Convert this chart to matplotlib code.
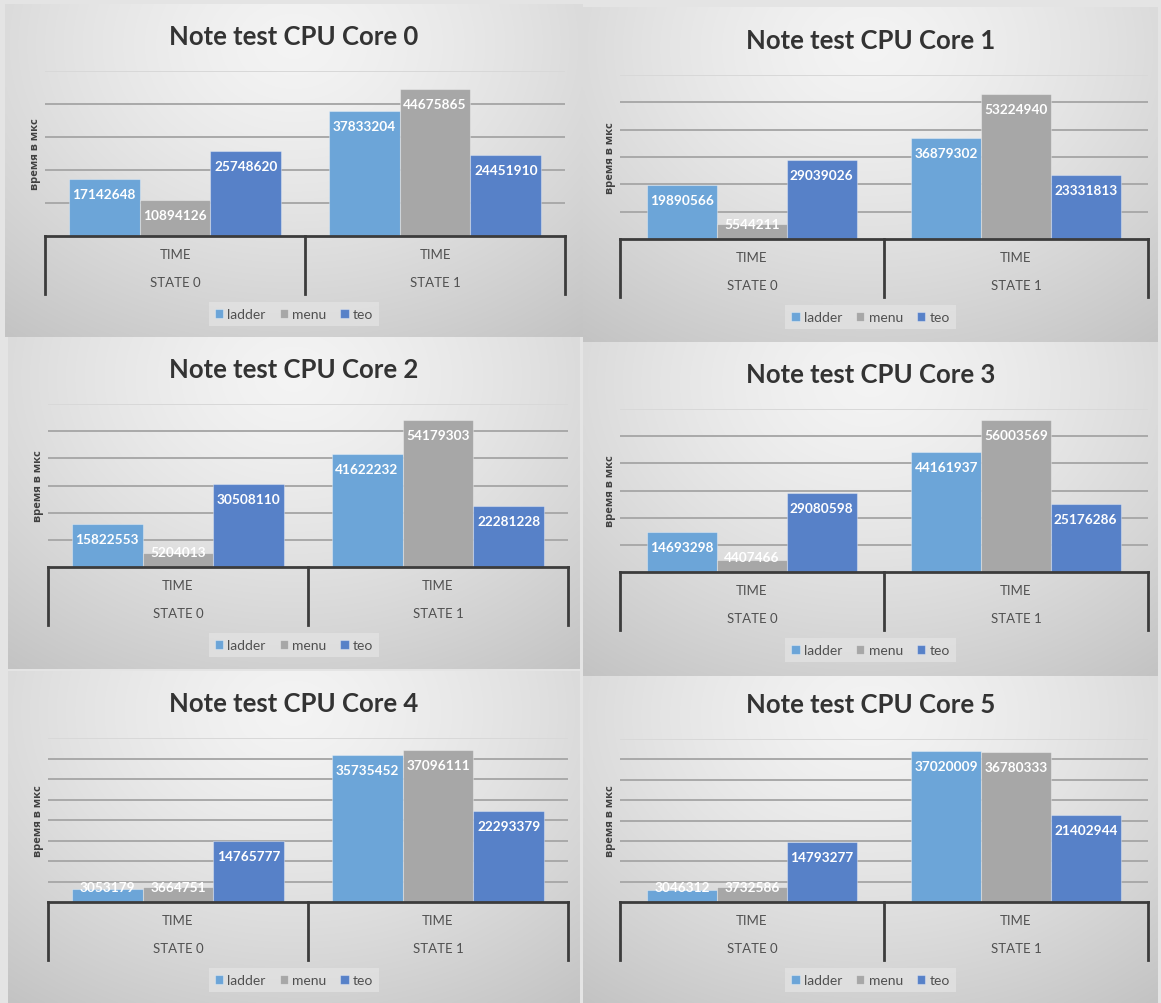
import numpy as np
import matplotlib.pyplot as plt
import matplotlib.transforms as mtransforms

plt.rcParams['font.family'] = ['Lato', 'Open Sans', 'DejaVu Sans']

W, H = 1161, 1004

core_titles = ['Note test CPU Core 0', 'Note test CPU Core 1', 'Note test CPU Core 2',
               'Note test CPU Core 3', 'Note test CPU Core 4', 'Note test CPU Core 5']
state_labels = ['STATE 0', 'STATE 1']
metric_label = 'TIME'
series_names = ['ladder', 'menu', 'teo']
y_label = 'время в мкс'

# time per core, [state 0, state 1]
ladder = [[17142648, 37833204], [19890566, 36879302], [15822553, 41622232],
          [14693298, 44161937], [3053179, 35735452], [3046312, 37020009]]
menu = [[10894126, 44675865], [5544211, 53224940], [5204013, 54179303],
        [4407466, 56003569], [3664751, 37096111], [3732586, 36780333]]
teo = [[25748620, 24451910], [29039026, 23331813], [30508110, 22281228],
       [29080598, 25176286], [14765777, 22293379], [14793277, 21402944]]

y_max = [50e6, 60e6, 60e6, 60e6, 40e6, 40e6]
y_step = [10e6, 10e6, 10e6, 10e6, 5e6, 5e6]

# panel rectangles in pixels: left, top, width, height
panels = [(5, 5, 578, 333), (583, 8, 575, 335), (8, 338, 572, 332),
          (583, 343, 575, 334), (8, 672, 572, 332), (583, 677, 575, 327)]
# plot areas in pixels: left, right, top gridline, baseline
plot_areas = [(45, 565, 72, 237), (620, 1148, 76, 240), (48, 568, 405, 568),
              (620, 1148, 410, 573), (48, 568, 739, 903), (620, 1148, 740, 903)]
bar_widths = [0.273, 0.264, 0.273, 0.264, 0.273, 0.264]

colors = ['#6ca5d8', '#a7a7a7', '#5781c8']
text_gray = '#505050'
PT = 0.72  # points per pixel at dpi 100


def gradient(n=200):
    yy, xx = np.mgrid[0:n, 0:n] / (n - 1)
    d = np.sqrt(((xx - 0.5) / 0.75) ** 2 + ((yy - 0.12) / 1.0) ** 2)
    d = np.clip(d / d.max(), 0, 1)
    v = 0.955 - 0.19 * d ** 1.4
    return np.dstack([v, v, v])


def add_panel(fig, i):
    l, t, w, h = panels[i]
    bg = fig.add_axes([l / W, 1 - (t + h) / H, w / W, h / H])
    bg.imshow(gradient(), aspect='auto', extent=[0, 1, 0, 1], interpolation='bilinear')
    bg.set_axis_off()

    x0, x1, ytop, ybase = plot_areas[i]
    ph = ybase - ytop
    ax = fig.add_axes([x0 / W, 1 - ybase / H, (x1 - x0) / W, ph / H])
    ax.set_facecolor('none')

    x = np.arange(2)
    bw = bar_widths[i]
    series = [ladder[i], menu[i], teo[i]]
    for k, vals in enumerate(series):
        ax.bar(x + (k - 1) * bw, vals, bw, color=colors[k],
               edgecolor=(1, 1, 1, 0.35), linewidth=0.8, zorder=3, label=series_names[k])
        for xi, v in zip(x + (k - 1) * bw, vals):
            hpx = v / y_max[i] * ph
            if hpx >= 30:
                ax.annotate(f'{v}', xy=(xi, v), xytext=(0, -15 * PT), textcoords='offset points',
                            ha='center', va='center', color='white', fontsize=9.8,
                            fontweight='bold', zorder=5)
            else:
                ax.annotate(f'{v}', xy=(xi, 0), xytext=(0, 15 * PT), textcoords='offset points',
                            ha='center', va='center', color='white', fontsize=9.8,
                            fontweight='bold', zorder=5)

    ax.set_xlim(-0.5, 1.5)
    ax.set_ylim(0, y_max[i])
    ticks = np.arange(y_step[i], y_max[i] + 1, y_step[i])
    for tv in ticks:
        c = '#d8d8d8' if tv == ticks[-1] else '#a9a9a9'
        ax.axhline(tv, color=c, lw=1.4, zorder=1)
    ax.set_xticks([])
    ax.set_yticks([])
    for s in ['top', 'right', 'left']:
        ax.spines[s].set_visible(False)
    ax.spines['bottom'].set_color('#3c3c3c')
    ax.spines['bottom'].set_linewidth(2)
    ax.spines['bottom'].set_zorder(6)

    trans = mtransforms.blended_transform_factory(ax.transData, ax.transAxes)
    for xv in [-0.5, 0.5, 1.5]:
        ax.plot([xv, xv], [0, -58 / ph], color='#3c3c3c', lw=2,
                transform=trans, clip_on=False, zorder=6)
    for xi, st in zip(x, state_labels):
        ax.annotate(metric_label, xy=(xi, 0), xycoords=trans, xytext=(0, -18 * PT),
                    textcoords='offset points', ha='center', va='center',
                    fontsize=9.5, color=text_gray)
        ax.annotate(st, xy=(xi, 0), xycoords=trans, xytext=(0, -46 * PT),
                    textcoords='offset points', ha='center', va='center',
                    fontsize=9.5, color=text_gray)

    ax.set_ylabel(y_label, fontsize=8, fontweight='bold', color='#404040',
                  labelpad=3, family=['Open Sans', 'DejaVu Sans'])

    # legend sits under the middle of the panel
    cx = ((l + w / 2) - x0) / (x1 - x0)
    leg = ax.legend(loc='center', bbox_to_anchor=(cx, -78 / ph), ncol=3, frameon=True,
                    fontsize=10, handlelength=0.6, handleheight=0.6, handletextpad=0.3,
                    columnspacing=1.0, borderpad=0.45, fancybox=False)
    leg.get_frame().set_facecolor('#e2e2e2')
    leg.get_frame().set_edgecolor('none')
    for txt in leg.get_texts():
        txt.set_color(text_gray)

    fig.text((l + w / 2) / W, 1 - (ytop - 35) / H, core_titles[i], ha='center', va='center',
             fontsize=18.5, fontweight='bold', color='#333333')


fig = plt.figure(figsize=(W / 100, H / 100), dpi=100, facecolor='#e4e4e4')
for i in range(6):
    add_panel(fig, i)
fig.savefig('out.png', dpi=100, facecolor=fig.get_facecolor())
